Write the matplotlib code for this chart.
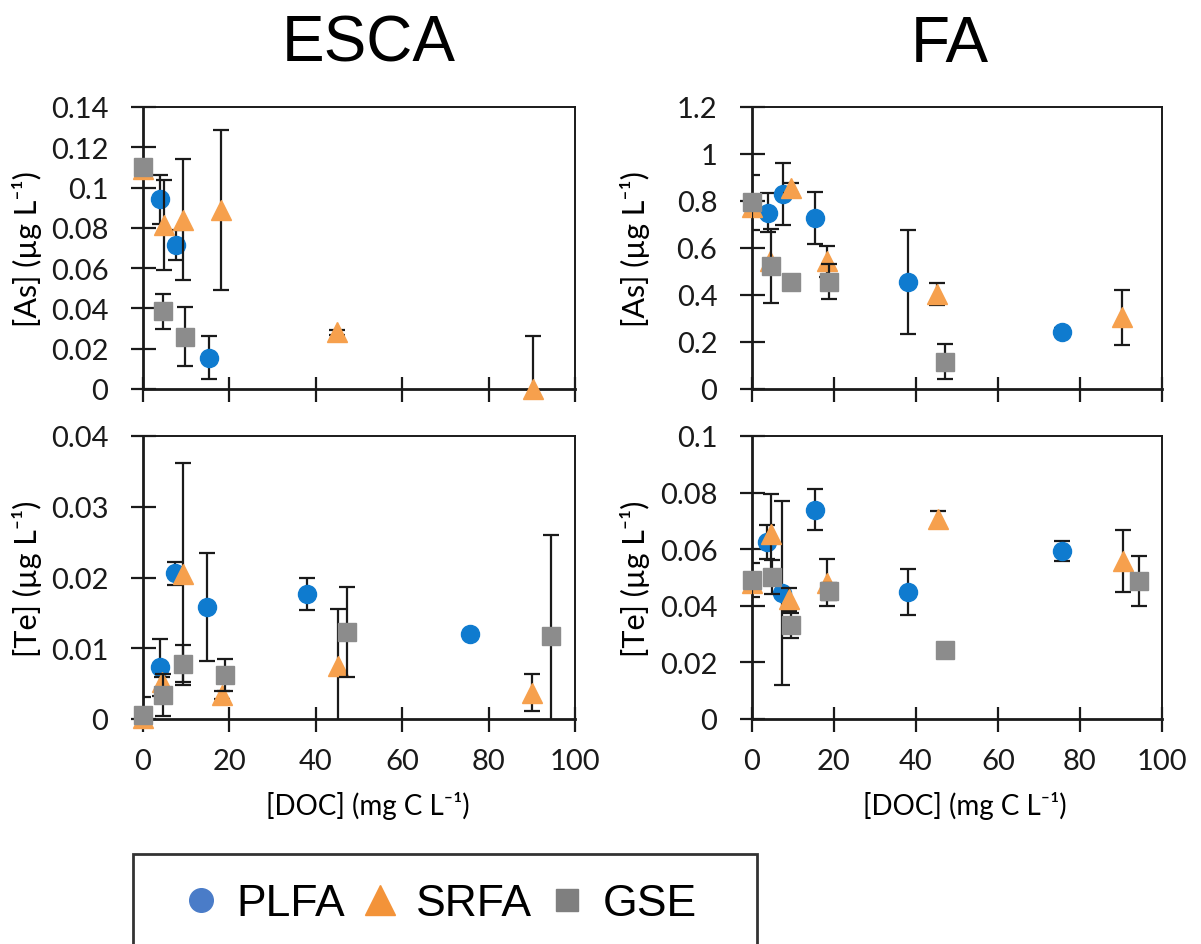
import numpy as np
import matplotlib
matplotlib.use("Agg")
import matplotlib.pyplot as plt
from matplotlib.ticker import FuncFormatter, MultipleLocator
from matplotlib.patches import Rectangle

# ESCA, [As]
esca_as_plfa_x = [4.0, 7.6, 15.2]
esca_as_plfa_y = [0.0941, 0.0714, 0.0156]
esca_as_plfa_err = [0.012, 0.0075, 0.0108]
esca_as_srfa_x = [0, 4.9, 9.2, 18.1, 45.0, 90.3]
esca_as_srfa_y = [0.109, 0.0815, 0.084, 0.089, 0.0282, 0.0]
esca_as_srfa_err = [0.0, 0.0222, 0.03, 0.0397, 0.0012, 0.0264]
esca_as_gse_x = [0, 4.7, 9.7]
esca_as_gse_y = [0.1104, 0.0387, 0.026]
esca_as_gse_err = [0.0, 0.0087, 0.0147]

# FA, [As]
fa_as_plfa_x = [3.9, 7.5, 15.3, 38.0, 75.5]
fa_as_plfa_y = [0.749, 0.83, 0.727, 0.454, 0.244]
fa_as_plfa_err = [0.083, 0.131, 0.11, 0.222, 0.015]
fa_as_srfa_x = [0, 4.5, 9.4, 18.3, 45.1, 90.3]
fa_as_srfa_y = [0.775, 0.545, 0.855, 0.543, 0.404, 0.306]
fa_as_srfa_err = [0.0, 0.0, 0.02, 0.065, 0.046, 0.117]
fa_as_gse_x = [0, 4.6, 9.6, 18.9, 47.1]
fa_as_gse_y = [0.795, 0.522, 0.457, 0.457, 0.116]
fa_as_gse_err = [0.117, 0.158, 0.0, 0.075, 0.074]

# ESCA, [Te]
esca_te_plfa_x = [4.0, 7.4, 14.9, 37.9, 75.6]
esca_te_plfa_y = [0.0073, 0.0206, 0.0158, 0.0177, 0.012]
esca_te_plfa_err = [0.004, 0.0016, 0.0076, 0.0023, 0.0]
esca_te_srfa_x = [0, 4.4, 9.3, 18.2, 45.2, 90.0]
esca_te_srfa_y = [0.0002, 0.0052, 0.0205, 0.0034, 0.0075, 0.0037]
esca_te_srfa_err = [0.0, 0.0008, 0.0157, 0.0006, 0.0081, 0.0026]
esca_te_gse_x = [0, 4.7, 9.2, 18.9, 47.2, 94.5]
esca_te_gse_y = [0.0006, 0.0034, 0.0078, 0.0062, 0.0123, 0.0117]
esca_te_gse_err = [0.0025, 0.003, 0.0026, 0.0023, 0.0064, 0.0143]

# FA, [Te]
fa_te_plfa_x = [3.6, 7.4, 15.3, 38.0, 75.5]
fa_te_plfa_y = [0.0625, 0.0446, 0.074, 0.0449, 0.0593]
fa_te_plfa_err = [0.006, 0.0325, 0.0072, 0.008, 0.0035]
fa_te_srfa_x = [0, 4.6, 9.1, 18.2, 45.3, 90.5]
fa_te_srfa_y = [0.0482, 0.0655, 0.0423, 0.0482, 0.0705, 0.0557]
fa_te_srfa_err = [0.0, 0.014, 0.004, 0.0083, 0.003, 0.011]
fa_te_gse_x = [0, 4.8, 9.4, 18.9, 47.1, 94.5]
fa_te_gse_y = [0.049, 0.0502, 0.0331, 0.0452, 0.0244, 0.0488]
fa_te_gse_err = [0.006, 0.006, 0.0045, 0.003, 0.002, 0.0088]

series_names = ["PLFA", "SRFA", "GSE"]
colors = ["#0F7BCF", "#F6A04D", "#8C8C8C"]
legend_colors = ["#4A7CC8", "#F39339", "#7F7F7F"]
markers = ["o", "^", "s"]
msizes = [13, 15, 13]

W, H = 1201, 945
fig = plt.figure(figsize=(W / 100, H / 100), dpi=100)

tick_font = ["Lato", "DejaVu Sans"]
head_font = ["Liberation Sans", "DejaVu Sans"]

def px_axes(l, r, t, b):
    return fig.add_axes([l / W, 1 - b / H, (r - l) / W, (b - t) / H])

panels = [
    (px_axes(143, 575, 108, 390), 0.14, 0.02, "[As] (µg L⁻¹)",
     [(esca_as_plfa_x, esca_as_plfa_y, esca_as_plfa_err),
      (esca_as_srfa_x, esca_as_srfa_y, esca_as_srfa_err),
      (esca_as_gse_x, esca_as_gse_y, esca_as_gse_err)], False),
    (px_axes(752, 1162, 108, 390), 1.2, 0.2, "[As] (µg L⁻¹)",
     [(fa_as_plfa_x, fa_as_plfa_y, fa_as_plfa_err),
      (fa_as_srfa_x, fa_as_srfa_y, fa_as_srfa_err),
      (fa_as_gse_x, fa_as_gse_y, fa_as_gse_err)], False),
    (px_axes(143, 575, 437, 720), 0.04, 0.01, "[Te] (µg L⁻¹)",
     [(esca_te_plfa_x, esca_te_plfa_y, esca_te_plfa_err),
      (esca_te_srfa_x, esca_te_srfa_y, esca_te_srfa_err),
      (esca_te_gse_x, esca_te_gse_y, esca_te_gse_err)], True),
    (px_axes(752, 1162, 437, 720), 0.1, 0.02, "[Te] (µg L⁻¹)",
     [(fa_te_plfa_x, fa_te_plfa_y, fa_te_plfa_err),
      (fa_te_srfa_x, fa_te_srfa_y, fa_te_srfa_err),
      (fa_te_gse_x, fa_te_gse_y, fa_te_gse_err)], True),
]

for idx, (ax, ymax, ystep, ylab, data, show_x) in enumerate(panels):
    for i, (xs, ys, es) in enumerate(data):
        ax.errorbar(xs, ys, yerr=es, fmt="none", ecolor="#1a1a1a",
                    elinewidth=1.6, capsize=6, capthick=1.6, zorder=3 + i)
        ax.plot(xs, ys, linestyle="none", marker=markers[i],
                markersize=msizes[i], color=colors[i], clip_on=False,
                zorder=3.5 + i, label=series_names[i])
    ax.set_xlim(0, 100)
    ax.set_ylim(0, ymax)
    ax.xaxis.set_major_locator(MultipleLocator(20))
    ax.yaxis.set_major_locator(MultipleLocator(ystep))
    ax.yaxis.set_major_formatter(FuncFormatter(lambda v, p: f"{v:g}"))
    ax.tick_params(direction="inout", length=18, width=1.6, colors="#1a1a1a",
                   labelsize=21)
    ax.tick_params(axis="y", pad=16)
    ax.tick_params(axis="x", pad=12)
    if not show_x:
        ax.tick_params(axis="x", labelbottom=False)
    for lab in ax.get_xticklabels() + ax.get_yticklabels():
        lab.set_family(tick_font)
    for s in ax.spines.values():
        s.set_linewidth(1.4)
        s.set_color("#1a1a1a")
    ax.spines["left"].set_linewidth(2)
    ax.spines["bottom"].set_linewidth(2)
    ax.set_ylabel(ylab, fontsize=22, family=tick_font)
    ax.yaxis.set_label_coords(-0.233 if idx % 2 == 0 else -0.248, 0.5)
    if show_x:
        ax.set_xlabel("[DOC] (mg C L⁻¹)", fontsize=20, family=tick_font)
        ax.xaxis.set_label_coords(0.52, -0.255)

fig.text(369 / W, 1 - 45 / H, "ESCA", fontsize=46, family=head_font,
         ha="center", va="center")
fig.text(950 / W, 1 - 45 / H, "FA", fontsize=46, family=head_font,
         ha="center", va="center")

# legend box, cut off by the bottom edge
fig.patches.append(Rectangle((133 / W, -0.05), (757 - 133) / W, 0.05 + 1 - 855 / H,
                             transform=fig.transFigure, fill=False,
                             edgecolor="#333333", linewidth=2))
leg_handles = []
for i in range(3):
    lh, = plt.plot([], [], linestyle="none", marker=markers[i],
                   markersize=[17, 22, 16][i], color=legend_colors[i])
    leg_handles.append(lh)
fig.legend(leg_handles, series_names, loc="center",
           bbox_to_anchor=(440 / W, 1 - 905 / H), ncol=3, frameon=False,
           prop={"family": head_font, "size": 32}, handletextpad=0.4,
           columnspacing=0.4, handlelength=0.8)

fig.savefig("out.png", dpi=100)
